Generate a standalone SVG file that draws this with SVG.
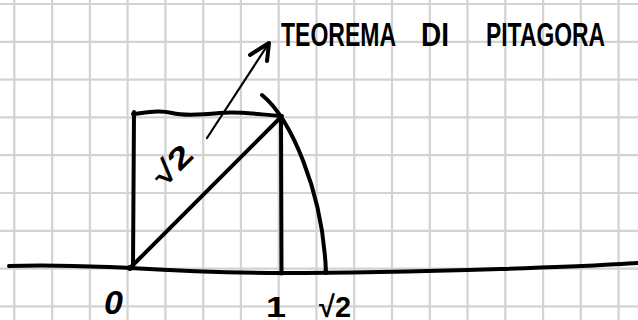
<svg xmlns="http://www.w3.org/2000/svg" width="638" height="320" viewBox="0 0 638 320">
<style>
.grid{stroke:#d3d3d3;stroke-width:2.2}
.ink{fill:none;stroke:#000;stroke-width:4;stroke-linecap:round;stroke-linejoin:round}
.thin{fill:none;stroke:#000;stroke-width:2.2;stroke-linecap:round;stroke-linejoin:round}
.hand{font-family:"Liberation Sans","DejaVu Sans",sans-serif;font-weight:bold;fill:#000}
</style>
<rect width="638" height="320" fill="#fff"/>
<g id="grid" class="grid">
<path d="M14.3,0V320M52.1,0V320M89.9,0V320M127.6,0V320M165.4,0V320M203.2,0V320M240.9,0V320M278.7,0V320M316.5,0V320M354.2,0V320M392,0V320M429.8,0V320M467.5,0V320M505.3,0V320M543.1,0V320M580.8,0V320M618.6,0V320"/>
<path d="M0,4H638M0,41.8H638M0,79.6H638M0,117.4H638M0,155.2H638M0,193H638M0,230.8H638M0,268.6H638M0,306.4H638"/>
</g>
<g id="axis">
<path class="ink" d="M9,266 C60,264 100,267 130,268 C180,271 230,273 282,273 C330,273 400,272 500,269 S600,265 638,263"/>
<circle cx="130" cy="268" r="3"/>
<circle cx="281.5" cy="273" r="2.5"/>
<circle cx="325.5" cy="272" r="2.5"/>
</g>
<g id="square">
<path class="ink" d="M134,112 L133,268"/>
<path class="ink" d="M133,114 C150,112 160,110 172,113 S200,115 220,113 S262,115 282,116"/>
<path class="ink" d="M281,117 L281.5,273"/>
<path class="ink" d="M130,268 L281,117"/>
</g>
<g id="arc">
<path class="ink" d="M262,95 C290,118 323,190 326,273"/>
</g>
<g id="connectors">
<path class="thin" d="M207,138 L269,43"/>
<path class="ink" d="M250,55 L269,43 L267,61"/>
</g>
<g id="labels">
<text class="hand" x="0" y="0" font-size="30" textLength="44" lengthAdjust="spacingAndGlyphs" transform="translate(164,188) rotate(-45)">√2</text>
<text class="hand" x="104" y="314" font-size="34" font-style="italic" font-weight="normal">0</text>
<text class="hand" x="266" y="317" font-size="30" textLength="20" lengthAdjust="spacingAndGlyphs">1</text>
<text class="hand" x="319" y="317" font-size="30" textLength="32" lengthAdjust="spacingAndGlyphs">√2</text>
</g>
<g id="title">
<text class="hand" font-size="34" x="281" y="46" textLength="115" lengthAdjust="spacingAndGlyphs">TEOREMA</text>
<text class="hand" font-size="34" x="421" y="46" textLength="28" lengthAdjust="spacingAndGlyphs">DI</text>
<text class="hand" font-size="34" x="486" y="46" textLength="119" lengthAdjust="spacingAndGlyphs">PITAGORA</text>
</g>
</svg>
